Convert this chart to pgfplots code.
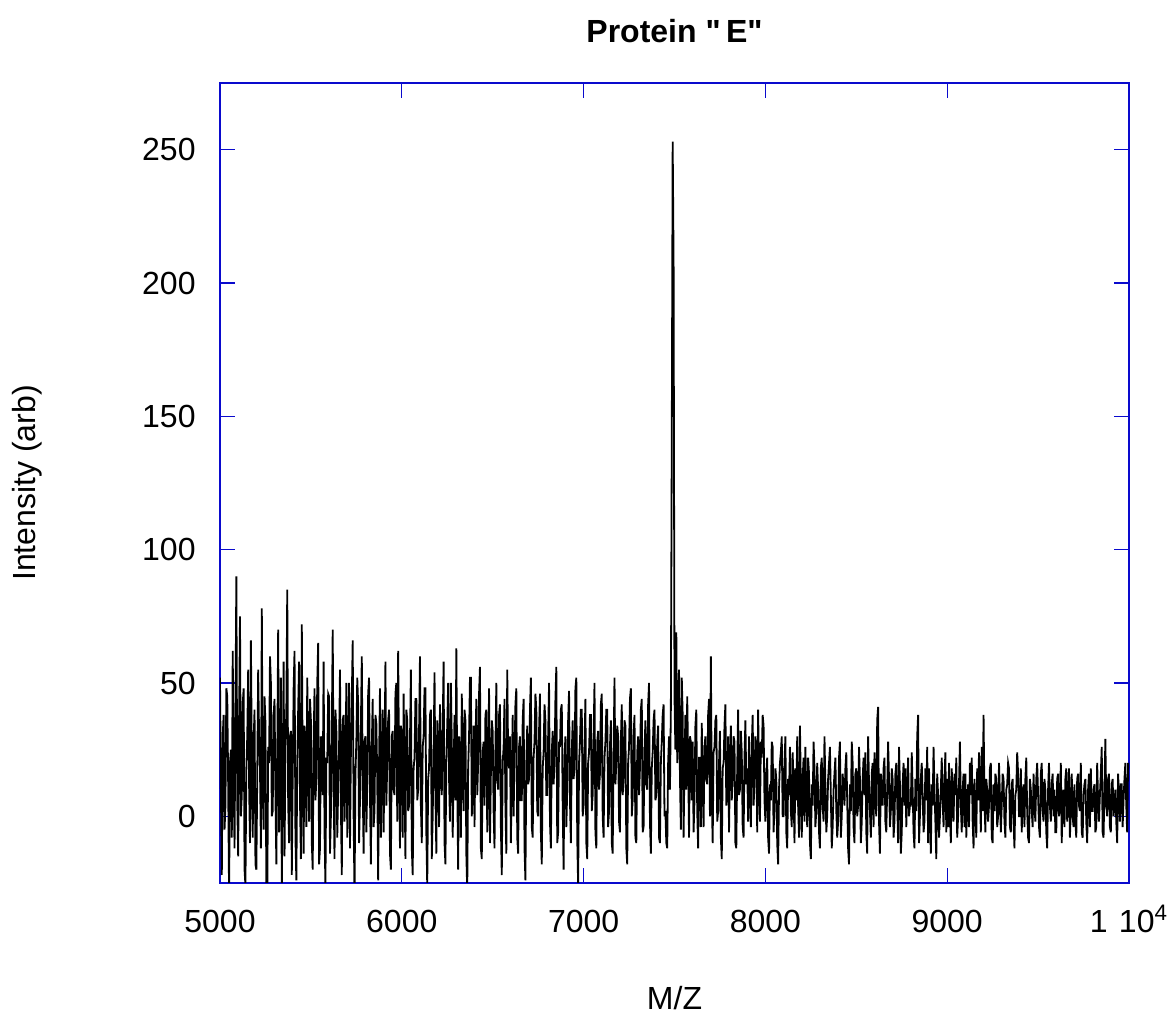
\documentclass[border=0pt]{standalone}
\usepackage{pgfplots}
\usepackage{pgfplotstable}
\pgfplotsset{compat=1.18}
\usepackage{fontspec}
\setmainfont{Liberation Sans}
\definecolor{axblue}{RGB}{10,10,205}

\pgfplotstableread[row sep=\\]{
y\\
52\\ 10\\ -22\\ 30\\ 38\\ -5\\ 4\\ 48\\ 45\\ 12\\ -30\\ 20\\ 25\\ -8\\ 62\\ 15\\ -12\\ 40\\ 90\\ 5\\
-15\\ 35\\ 75\\ 0\\ 8\\ 42\\ 48\\ -20\\ -26\\ 18\\ 30\\ 55\\ 12\\ -10\\ 66\\ 22\\ -8\\ 28\\ 40\\ -18\\
-20\\ 15\\ 55\\ 30\\ 18\\ -12\\ 78\\ 10\\ -5\\ 45\\ 35\\ -25\\ -32\\ 26\\ 20\\ 60\\ 50\\ 0\\ 2\\ 38\\
44\\ 8\\ -18\\ 22\\ 70\\ -6\\ 10\\ 52\\ -28\\ 14\\ 58\\ -15\\ 24\\ 40\\ 85\\ 5\\ -10\\ 30\\ 32\\ -22\\
15\\ 48\\ 62\\ -8\\ -24\\ 20\\ 40\\ 58\\ 6\\ -16\\ 72\\ 12\\ -14\\ 34\\ 28\\ -4\\ 52\\ 18\\ -2\\ 44\\
36\\ -10\\ -20\\ 28\\ 48\\ 6\\ 14\\ 50\\ 65\\ -18\\ -12\\ 30\\ 26\\ 8\\ 58\\ -6\\ -26\\ 22\\ 20\\ 46\\
45\\ -14\\ 0\\ 32\\ 70\\ 10\\ -16\\ 40\\ 32\\ -8\\ 10\\ 26\\ 55\\ 4\\ -22\\ 36\\ 38\\ -2\\ 18\\ 50\\
-8\\ 24\\ 50\\ -12\\ 24\\ 44\\ 66\\ 0\\ -30\\ 16\\ 28\\ 52\\ 42\\ -10\\ 6\\ 34\\ 60\\ 12\\ -14\\ 28\\
30\\ -6\\ 12\\ 46\\ 52\\ 8\\ -18\\ 26\\ 44\\ -4\\ 2\\ 38\\ 35\\ 14\\ -24\\ 20\\ 48\\ -8\\ 16\\ 40\\
-6\\ 22\\ 58\\ 4\\ 20\\ 36\\ 40\\ -14\\ -20\\ 30\\ 32\\ 10\\ 8\\ 46\\ 50\\ -2\\ 62\\ 18\\ -12\\ 34\\
28\\ -8\\ 46\\ 16\\ -16\\ 40\\ 36\\ 2\\ 4\\ 28\\ 55\\ -12\\ -22\\ 18\\ 22\\ 44\\ 44\\ 6\\ 10\\ 32\\
60\\ 4\\ -10\\ 26\\ 30\\ 48\\ 48\\ -6\\ -26\\ 14\\ 18\\ 38\\ 40\\ -16\\ 0\\ 24\\ 54\\ 8\\ -14\\ 36\\
26\\ -4\\ 42\\ 18\\ 8\\ 34\\ 58\\ -10\\ -18\\ 22\\ 34\\ 50\\ 14\\ -2\\ 50\\ 28\\ -8\\ 16\\ 38\\ 6\\
63\\ 12\\ -20\\ 30\\ 24\\ -8\\ 46\\ 20\\ 2\\ 40\\ 36\\ -14\\ -28\\ 18\\ 30\\ 52\\ 52\\ 0\\ 12\\ 34\\
-4\\ 26\\ 44\\ 8\\ 20\\ 46\\ 56\\ -12\\ -16\\ 24\\ 28\\ 4\\ 38\\ 40\\ -6\\ 16\\ 48\\ -10\\ 16\\ 36\\
32\\ 2\\ -12\\ 26\\ 50\\ 14\\ 10\\ 38\\ 42\\ -4\\ -22\\ 20\\ 26\\ 44\\ 4\\ -14\\ 55\\ 22\\ 18\\ 30\\
-10\\ 16\\ 38\\ 0\\ 22\\ 42\\ 48\\ -8\\ -14\\ 26\\ 30\\ 6\\ 6\\ 36\\ 44\\ -12\\ -24\\ 20\\ 34\\ 12\\
14\\ 40\\ 52\\ -4\\ -8\\ 22\\ 28\\ 46\\ 40\\ 2\\ 0\\ 32\\ 46\\ -6\\ -18\\ 18\\ 24\\ 42\\ 36\\ 8\\
8\\ 30\\ 50\\ -2\\ -12\\ 24\\ 32\\ 12\\ 20\\ 44\\ 56\\ -10\\ -6\\ 28\\ 26\\ 40\\ 42\\ 4\\ -20\\ 22\\
30\\ -4\\ 10\\ 36\\ 47\\ 6\\ -10\\ 24\\ 36\\ 14\\ 18\\ 48\\ 52\\ -8\\ -26\\ 20\\ 28\\ 40\\ 40\\ 0\\
4\\ 26\\ 44\\ -10\\ -16\\ 20\\ 24\\ 38\\ 38\\ 2\\ 8\\ 30\\ 50\\ -6\\ -12\\ 28\\ 32\\ 10\\ 16\\ 42\\
46\\ 0\\ -8\\ 22\\ 28\\ 40\\ 40\\ -4\\ 2\\ 26\\ 36\\ -10\\ -14\\ 24\\ 52\\ 12\\ 20\\ 34\\ 30\\ -2\\
-6\\ 28\\ 42\\ 8\\ 14\\ 36\\ 34\\ -12\\ -18\\ 20\\ 26\\ 44\\ 48\\ 0\\ 6\\ 30\\ 38\\ -8\\ -10\\ 24\\
30\\ 8\\ 18\\ 40\\ 44\\ -6\\ -4\\ 24\\ 36\\ 12\\ 10\\ 42\\ 50\\ -2\\ -14\\ 18\\ 24\\ 36\\ 40\\ 6\\
8\\ 28\\ 34\\ -8\\ -10\\ 20\\ 28\\ 38\\ 42\\ 0\\ 2\\ -10\\ -12\\ 20\\ 30\\ 10\\ 40\\ 140\\ 253\\ 208\\
45\\ 25\\ 69\\ 20\\ 30\\ 55\\ 15\\ -5\\ 52\\ 38\\ -8\\ 20\\ 38\\ 10\\ 45\\ 22\\ -8\\ 30\\ 28\\ 6\\
28\\ -6\\ 6\\ 34\\ 40\\ 2\\ -12\\ 22\\ 22\\ -4\\ 35\\ 12\\ -4\\ 26\\ 30\\ 14\\ 12\\ 38\\ 44\\ 0\\
60\\ 8\\ -10\\ 24\\ 26\\ 36\\ 38\\ -2\\ 2\\ 20\\ 32\\ -8\\ -16\\ 18\\ 20\\ 34\\ 42\\ 4\\ 8\\ 30\\
-6\\ 20\\ 34\\ 6\\ 14\\ 30\\ 28\\ -10\\ -12\\ 18\\ 40\\ 8\\ 10\\ 32\\ 24\\ -4\\ -8\\ 22\\ 36\\ 12\\
18\\ -2\\ 30\\ 10\\ -4\\ 26\\ 38\\ 4\\ 12\\ 30\\ 26\\ -6\\ 40\\ 16\\ -2\\ 28\\ 22\\ 38\\ 34\\ 6\\
-2\\ 16\\ 22\\ -8\\ -14\\ 12\\ 6\\ 28\\ 26\\ -6\\ 3\\ 18\\ 14\\ -10\\ -18\\ 10\\ 20\\ 24\\ 30\\ 0\\
0\\ 20\\ 30\\ -6\\ -12\\ 14\\ 8\\ 26\\ 2\\ -4\\ 24\\ 10\\ -10\\ 18\\ 6\\ 30\\ 4\\ -8\\ 34\\ 12\\
-8\\ 14\\ 22\\ -2\\ 26\\ 8\\ -4\\ 22\\ 16\\ -10\\ -16\\ 12\\ 4\\ 28\\ 18\\ -4\\ 2\\ 20\\ 10\\ -6\\
-12\\ 18\\ 22\\ 4\\ -2\\ 30\\ 12\\ -6\\ 0\\ 14\\ 20\\ 26\\ 8\\ -12\\ -4\\ 10\\ 16\\ 22\\ 2\\ -8\\
-2\\ 22\\ 28\\ -8\\ 0\\ 16\\ 10\\ 4\\ 18\\ 24\\ 6\\ -12\\ -18\\ 12\\ 2\\ 28\\ 20\\ -4\\ -10\\ 16\\
18\\ 0\\ 4\\ 26\\ 14\\ -10\\ -2\\ 14\\ 22\\ 8\\ 24\\ -6\\ -14\\ 30\\ 12\\ 2\\ -8\\ 16\\ 20\\ -4\\
24\\ 6\\ 0\\ 36\\ 41\\ -2\\ -14\\ 16\\ 8\\ 4\\ 18\\ 22\\ -2\\ -6\\ 10\\ 28\\ 14\\ -4\\ 2\\ 18\\
14\\ -8\\ -2\\ 16\\ 20\\ 6\\ -10\\ 26\\ 12\\ -14\\ -6\\ 12\\ 20\\ 4\\ 18\\ -4\\ 8\\ 22\\ 0\\ 4\\
4\\ 24\\ 10\\ -6\\ -12\\ 14\\ 2\\ 30\\ 38\\ -10\\ 0\\ 14\\ 20\\ 8\\ -6\\ -2\\ 18\\ 6\\ 26\\ -10\\
18\\ 2\\ -14\\ 12\\ 4\\ 26\\ 10\\ -2\\ -16\\ 16\\ 8\\ -8\\ 0\\ 10\\ 22\\ 6\\ -4\\ 14\\ 24\\ -6\\
14\\ -4\\ 20\\ 2\\ -10\\ 18\\ 6\\ -2\\ 16\\ 8\\ 22\\ -8\\ 0\\ 12\\ 28\\ 4\\ -6\\ 10\\ 16\\ -4\\
16\\ -8\\ 4\\ 12\\ -4\\ 20\\ 8\\ 22\\ -2\\ -12\\ 14\\ 4\\ -8\\ 18\\ 6\\ 24\\ 10\\ -6\\ 26\\ 2\\
38\\ 6\\ -6\\ 14\\ 10\\ -2\\ 4\\ 18\\ 20\\ -8\\ -10\\ 12\\ 2\\ 16\\ 14\\ -4\\ 0\\ 20\\ 8\\ -6\\
4\\ 16\\ 14\\ -2\\ -8\\ 10\\ 12\\ 20\\ 18\\ -4\\ -6\\ 12\\ 14\\ -2\\ -12\\ 8\\ 10\\ 24\\ 16\\ 0\\
0\\ 18\\ -6\\ 8\\ 12\\ -4\\ 14\\ 22\\ 2\\ -8\\ -10\\ 14\\ 10\\ 2\\ -4\\ 16\\ 4\\ -2\\ 14\\ 20\\
8\\ -4\\ -8\\ 16\\ 20\\ 2\\ -2\\ 14\\ 10\\ -6\\ -12\\ 10\\ 20\\ 4\\ -2\\ 12\\ 16\\ 0\\ 10\\ -6\\
-6\\ 14\\ 16\\ 0\\ 4\\ 20\\ -10\\ 8\\ 10\\ -4\\ 14\\ 18\\ -2\\ 6\\ 18\\ -8\\ 2\\ 16\\ 0\\ -4\\
12\\ -2\\ -8\\ 14\\ 16\\ 4\\ 2\\ 20\\ -6\\ -8\\ 8\\ 12\\ 14\\ -2\\ -10\\ 10\\ 16\\ -4\\ 18\\ 2\\
2\\ 10\\ 12\\ -6\\ -4\\ 20\\ 6\\ -2\\ 8\\ 16\\ 26\\ -6\\ -8\\ 10\\ 29\\ 4\\ 0\\ 14\\ 16\\ -4\\
-6\\ 12\\ 14\\ 0\\ 4\\ 10\\ -2\\ -10\\ 16\\ 8\\ -2\\ 12\\ 12\\ -4\\ 6\\ 14\\ 20\\ 4\\ -6\\ 20\\
18\\
}\specdata

\begin{document}
\begin{tikzpicture}
\path[use as bounding box] (-110pt,-69pt) rectangle (477pt,441.5pt);
\begin{axis}[
  at={(0,0)}, anchor=south west,
  scale only axis,
  width=454.5pt, height=400pt,
  xmin=5000, xmax=10000,
  ymin=-25, ymax=275,
  xtick={5000,6000,7000,8000,9000,10000},
  xticklabels={5000,6000,7000,8000,9000,{1\hspace{0.35em}10\textsuperscript{4}}},
  ytick={0,50,100,150,200,250},
  scaled x ticks=false,
  /pgf/number format/assume math mode=true,
  /pgf/number format/1000 sep={},
  tick align=inside,
  major tick length=7.5pt,
  axis line style={axblue, line width=0.6pt},
  every tick/.style={axblue, line width=0.6pt},
  tick label style={font=\fontsize{16}{19}\selectfont, inner sep=0pt},
  xticklabel style={anchor=base, yshift=-25pt},
  yticklabel style={anchor=east, xshift=-12pt},
  title={\textbf{Protein \textquotedbl\,E\textquotedbl}},
  title style={font=\fontsize{16}{19}\selectfont, at={(axis description cs:0.5,1)}, anchor=base, yshift=14pt, inner sep=0pt},
  xlabel={M/Z},
  xlabel style={font=\fontsize{16}{19}\selectfont, at={(axis description cs:0.5,0)}, anchor=base, yshift=-63.5pt, inner sep=0pt},
  ylabel={Intensity (arb)},
  ylabel style={font=\fontsize{16}{19}\selectfont, at={(axis description cs:-0.195,0.5)}, anchor=south, rotate=0, inner sep=0pt},
]
\addplot[black, line width=0.9pt, mark=none] table[x expr={5000+5*\coordindex}, y=y] {\specdata};
\end{axis}
\end{tikzpicture}
\end{document}
